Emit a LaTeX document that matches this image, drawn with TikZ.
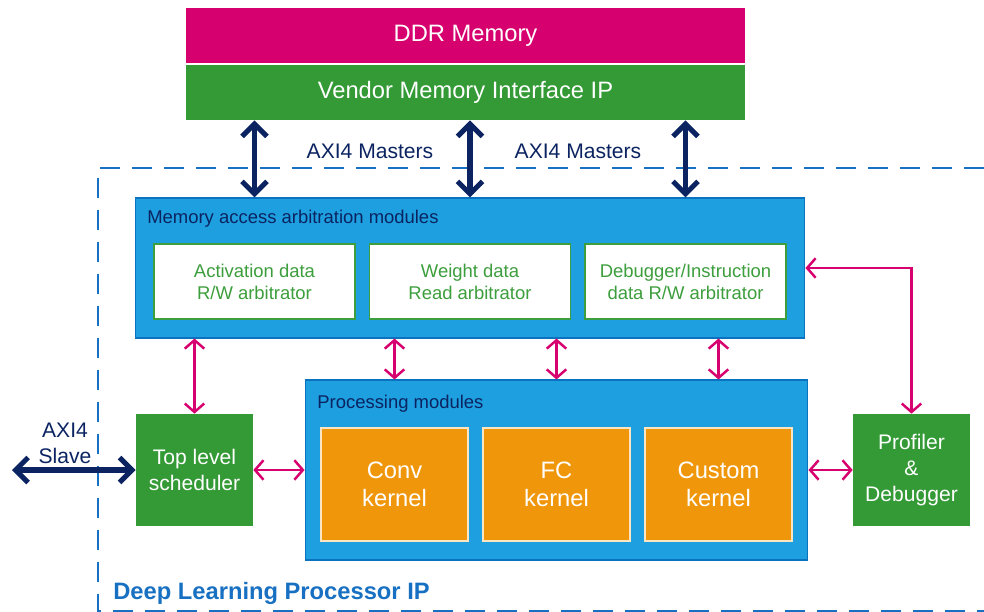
\documentclass[tikz,border=0pt]{standalone}
\usepackage{fontspec}
\setmainfont{Liberation Sans}
\usetikzlibrary{arrows.meta}
\definecolor{ddrpink}{HTML}{D6006F}
\definecolor{ipgreen}{HTML}{349A36}
\definecolor{modblue}{HTML}{1E9FDF}
\definecolor{modedge}{HTML}{0A72BE}
\definecolor{axinavy}{HTML}{0B2461}
\definecolor{kernorange}{HTML}{F0960A}
\definecolor{arbgreen}{HTML}{3C9E3C}
\definecolor{ipblue}{HTML}{1870C2}

\begin{document}
\begin{tikzpicture}[x=0.02cm, y=-0.02cm,
    topbar/.style={fill=#1, text=white, minimum width=11.18cm, minimum height=1.1cm, inner sep=0pt, text height=1.9ex, text depth=0.5ex, font=\fontsize{13.5}{16}\selectfont},
    modbox/.style={fill=modblue, draw=modedge, line width=0.6pt, minimum width=#1, inner sep=0pt},
    arbbox/.style={fill=white, draw=arbgreen, line width=0.6pt, text=arbgreen, minimum width=4.02cm, minimum height=1.5cm, align=center, inner sep=0pt, font=\fontsize{10.5}{12.5}\selectfont},
    kernbox/.style={fill=kernorange, draw=white!75!kernorange, line width=0.6pt, text=white, minimum width=2.94cm, minimum height=2.26cm, align=center, inner sep=0pt, font=\fontsize{13.5}{16}\selectfont},
    sidebox/.style={fill=ipgreen, text=white, minimum width=2.34cm, minimum height=2.24cm, align=center, inner sep=0pt, font=\fontsize{12}{14.7}\selectfont},
    title/.style={anchor=west, text=axinavy, inner sep=0pt, font=\fontsize{10.5}{12.5}\selectfont},
    axi/.style={axinavy, line width=2.9pt, {Straight Barb[length=2.5mm, width=5mm]}-{Straight Barb[length=2.5mm, width=5mm]}},
    link/.style={ddrpink, line width=1.4pt, {Straight Barb[length=1.7mm, width=3.9mm]}-{Straight Barb[length=1.7mm, width=3.9mm]}}]

    \useasboundingbox (0,0) rectangle (984,612);

    % IP boundary
    \draw[ipblue, line width=1.5pt, dash pattern=on 0.4cm off 0.24cm] (984,168) -- (98,168) -- (98,611) -- (984,611);
    \draw(113,593) node[anchor=west, inner sep=0pt, text=ipblue, font=\bfseries\fontsize{13.5}{16}\selectfont] (iplabel) {Deep Learning Processor IP};

    % memory side
    \draw(465.5,35.5) node[topbar=ddrpink] (ddr) {DDR Memory};
    \draw(465.5,92.5) node[topbar=ipgreen] (vmi) {Vendor Memory Interface IP};

    % arbitration
    \draw(470,268) node[modbox=13.4cm, minimum height=2.8cm] (arb) {};
    \draw(147,218.5) node[title] (arbtitle) {Memory access arbitration modules};
    \draw(254.5,281.5) node[arbbox] (act) {Activation data\\R/W arbitrator};
    \draw(470,281.5) node[arbbox] (wgt) {Weight data\\Read arbitrator};
    \draw(685.5,281.5) node[arbbox] (dbg) {Debugger/Instruction\\data R/W arbitrator};

    % processing
    \draw(556.5,470) node[modbox=10.06cm, minimum height=3.6cm] (proc) {};
    \draw(317,403.5) node[title] (proctitle) {Processing modules};
    \draw(394.5,484.5) node[kernbox] (conv) {Conv\\kernel};
    \draw(556.5,484.5) node[kernbox] (fc) {FC\\kernel};
    \draw(718.5,484.5) node[kernbox] (cust) {Custom\\kernel};

    \draw(194.5,470) node[sidebox] (sched) {Top level\\scheduler};
    \draw(911.5,470) node[sidebox] (prof) {Profiler\\\&\\Debugger};

    % AXI4 links
    \draw[axi] (vmi.south -| act) -- (arb.north -| act);
    \draw[axi] (vmi.south -| wgt) -- (arb.north -| wgt);
    \draw[axi] (vmi.south -| dbg) -- (arb.north -| dbg);
    \draw(370,151) node[text=axinavy, font=\fontsize{12}{14}\selectfont] (mst1) {AXI4 Masters};
    \draw(578,151) node[text=axinavy, font=\fontsize{12}{14}\selectfont] (mst2) {AXI4 Masters};

    \coordinate (slv) at (12,470);
    \draw[axi] (slv) -- (sched.west);
    \draw(65,443) node[text=axinavy, align=center, font=\fontsize{12}{14.7}\selectfont] (slvlabel) {AXI4\\Slave};

    % internal links
    \draw[link] (arb.south -| sched) -- (sched.north);
    \draw[link] (arb.south -| conv) -- (proc.north -| conv);
    \draw[link] (arb.south -| fc) -- (proc.north -| fc);
    \draw[link] (arb.south -| cust) -- (proc.north -| cust);
    \draw[link] (sched) -- (proc);
    \draw[link] (proc) -- (prof);
    \draw[link] (arb.east) -| (prof.north);

\end{tikzpicture}
\end{document}
